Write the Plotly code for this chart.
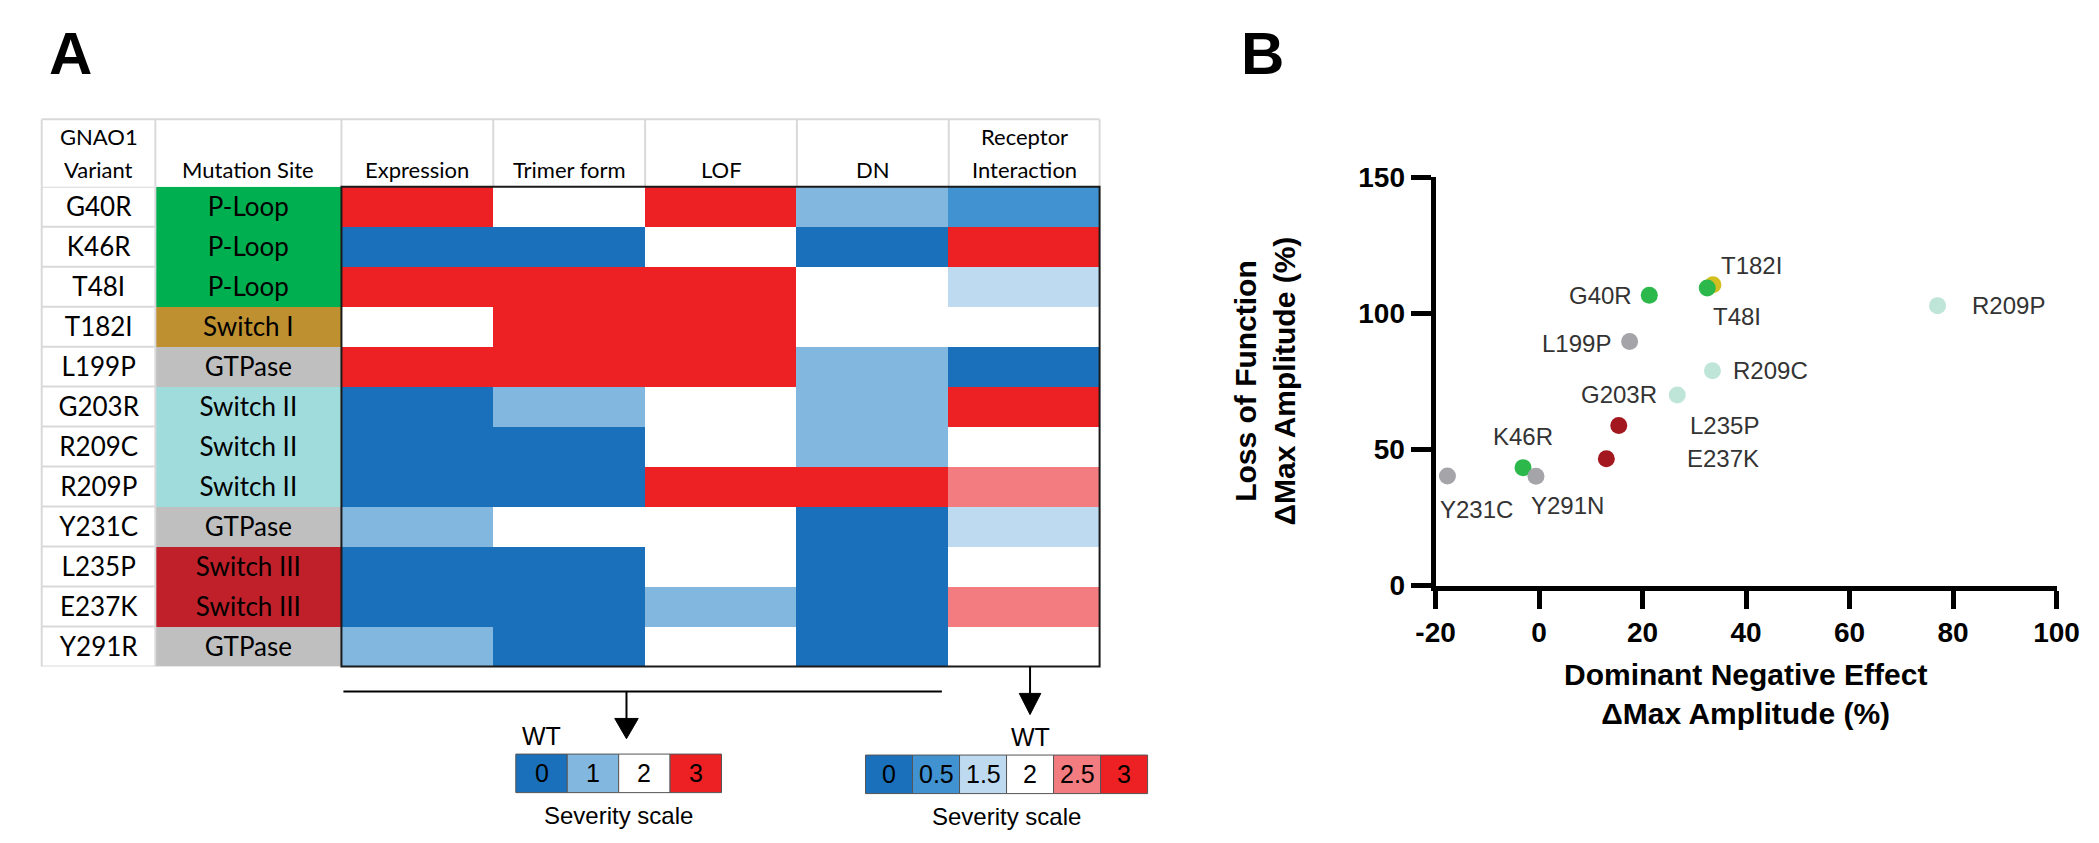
import plotly.graph_objects as go

W, H = 2099, 843
def px(x): return x / W
def py(y): return 1 - y / H

# ---------------- data: panel A ----------------
variants = ["G40R", "K46R", "T48I", "T182I", "L199P", "G203R", "R209C", "R209P",
            "Y231C", "L235P", "E237K", "Y291R"]
mutation_sites = ["P-Loop", "P-Loop", "P-Loop", "Switch I", "GTPase", "Switch II",
                  "Switch II", "Switch II", "GTPase", "Switch III", "Switch III", "GTPase"]
site_names = ["P-Loop", "Switch I", "GTPase", "Switch II", "Switch III"]
columns = ["Expression", "Trimer form", "LOF", "DN", "Receptor Interaction"]
expression = [3, 0, 3, 2, 3, 0, 0, 0, 1, 0, 0, 1]
trimer_form = [2, 0, 3, 3, 3, 1, 0, 0, 2, 0, 0, 0]
lof = [3, 2, 3, 3, 3, 2, 2, 3, 2, 2, 1, 2]
dn = [1, 0, 2, 2, 1, 1, 1, 3, 0, 0, 0, 0]
receptor = [0.5, 3, 1.5, 2, 0, 3, 2, 2.5, 1.5, 2, 2.5, 2]
legend1_values = [0, 1, 2, 3]
legend2_values = [0, 0.5, 1.5, 2, 2.5, 3]

# ---------------- data: panel B ----------------
scatter_labels = ["T182I", "T48I", "G40R", "R209P", "L199P", "R209C", "G203R",
                  "L235P", "E237K", "K46R", "Y291N", "Y231C"]
dn_effect = [33.6, 32.5, 21.3, 77.0, 17.5, 33.5, 26.7, 15.4, 13.0, -3.1, -0.6, -17.7]
lof_effect = [110.5, 109.3, 106.6, 102.8, 89.6, 78.9, 70.0, 58.8, 46.6, 43.3, 40.1, 40.2]
scatter_groups = ["Switch I", "P-Loop", "P-Loop", "Switch II", "GTPase", "Switch II",
                  "Switch II", "Switch III", "Switch III", "P-Loop", "GTPase", "GTPase"]
x_ticks = [-20, 0, 20, 40, 60, 80, 100]
x_tick_text = ["-20", "0", "20", "40", "60", "80", "100"]
y_ticks = [0, 50, 100, 150]

# ---------------- styles ----------------
sev_colors = {0: "#1A70BB", 0.5: "#4092D0", 1: "#82B8E0", 1.5: "#BDDAF0",
              2: "#FFFFFF", 2.5: "#F37C80", 3: "#ED2024"}
site_colors = {"P-Loop": "#00B050", "Switch I": "#BF9030", "GTPase": "#BFBFBF",
               "Switch II": "#A0DCDC", "Switch III": "#C0202A"}
dot_colors = {"P-Loop": "#2DB84B", "Switch I": "#D2BE1E", "GTPase": "#A5A5A9",
              "Switch II": "#BEE5D8", "Switch III": "#A3181E"}
label_offsets = {"G40R": (-49, 0), "T48I": (30, 29), "T182I": (39, -19), "R209P": (71, 0),
                 "L199P": (-53, 2), "R209C": (58, 0), "G203R": (-58, 0), "L235P": (106, 0),
                 "E237K": (117, 0), "K46R": (0, -31), "Y231C": (29, 33), "Y291N": (32, 29)}

TFONT = "Lato"
AFONT = "Liberation Sans"

# geometry (px)
col_edges = [14, 130, 320, 475, 630, 785, 940, 1094]
tbl_top, hdr_bot, tbl_bot = 100, 170, 668

fig = go.Figure()

# severity heatmap
sev_keys = [0, 0.5, 1, 1.5, 2, 2.5, 3]
cs = []
n = len(sev_keys)
for i, k in enumerate(sev_keys):
    cs.append([i / n, sev_colors[k]])
    cs.append([(i + 1) / n, sev_colors[k]])
z = [[expression[r], trimer_form[r], lof[r], dn[r], receptor[r]] for r in range(len(variants))]
fig.add_trace(go.Heatmap(z=z, x=columns, y=variants, colorscale=cs, zmin=-0.25, zmax=3.25,
                         showscale=False, hoverinfo="skip", xaxis="x2", yaxis="y2"))

# mutation site column
site_idx = [[site_names.index(s)] for s in mutation_sites]
cs2 = []
for i, s in enumerate(site_names):
    cs2.append([i / len(site_names), site_colors[s]])
    cs2.append([(i + 1) / len(site_names), site_colors[s]])
fig.add_trace(go.Heatmap(z=site_idx, x=["Mutation Site"], y=variants, colorscale=cs2,
                         zmin=-0.5, zmax=len(site_names) - 0.5, showscale=False,
                         text=[[s] for s in mutation_sites], texttemplate="%{text}",
                         textfont=dict(family=TFONT, size=26, color="black"),
                         hoverinfo="skip", xaxis="x3", yaxis="y3"))

# variant column
fig.add_trace(go.Heatmap(z=[[0] for _ in variants], x=["GNAO1 Variant"], y=variants,
                         colorscale=[[0, "white"], [1, "white"]], showscale=False,
                         text=[[v] for v in variants], texttemplate="%{text}",
                         textfont=dict(family=TFONT, size=26, color="black"),
                         hoverinfo="skip", xaxis="x4", yaxis="y4"))

# scatter
fig.add_trace(go.Scatter(x=dn_effect, y=lof_effect, mode="markers",
                         marker=dict(size=17, color=[dot_colors[g] for g in scatter_groups]),
                         cliponaxis=False, hoverinfo="skip", xaxis="x", yaxis="y"))

ydom = [py(tbl_bot), py(hdr_bot)]
hidden = dict(visible=False, fixedrange=True)
tickf = dict(family=AFONT, size=28, color="black", weight="bold")
fig.update_layout(
    width=W, height=H, margin=dict(l=0, r=0, t=0, b=0), autosize=False,
    paper_bgcolor="white", plot_bgcolor="white", showlegend=False,
    xaxis=dict(domain=[px(1437), px(2071)], range=[-20, 100], tickvals=x_ticks, ticktext=x_tick_text,
               showline=True, linewidth=5, linecolor="black", ticks="outside",
               ticklen=18, tickwidth=5, tickcolor="black", showgrid=False, zeroline=False,
               tickfont=tickf, anchor="y"),
    yaxis=dict(domain=[py(584), py(160)], range=[0, 150], tickvals=y_ticks,
               showline=True, linewidth=5, linecolor="black", ticks="outside",
               ticklen=20, tickwidth=5, tickcolor="black", showgrid=False, zeroline=False,
               tickfont=tickf, anchor="x"),
    xaxis2=dict(domain=[px(col_edges[2]), px(col_edges[7])], range=[-0.5, 4.5], anchor="y2", **hidden),
    yaxis2=dict(domain=ydom, range=[11.5, -0.5], anchor="x2", **hidden),
    xaxis3=dict(domain=[px(col_edges[1]), px(col_edges[2])], range=[-0.5, 0.5], anchor="y3", **hidden),
    yaxis3=dict(domain=ydom, range=[11.5, -0.5], anchor="x3", **hidden),
    xaxis4=dict(domain=[px(col_edges[0]), px(col_edges[1])], range=[-0.5, 0.5], anchor="y4", **hidden),
    yaxis4=dict(domain=ydom, range=[11.5, -0.5], anchor="x4", **hidden),
)

shapes = []
ann = []
GRID = "#D9D9D9"
# header grid
shapes.append(dict(type="line", xref="paper", yref="paper", x0=px(col_edges[0]), x1=px(col_edges[-1]),
                   y0=py(tbl_top), y1=py(tbl_top), line=dict(color=GRID, width=2)))
for xe in col_edges:
    shapes.append(dict(type="line", xref="paper", yref="paper", x0=px(xe), x1=px(xe),
                       y0=py(tbl_top), y1=py(hdr_bot), line=dict(color=GRID, width=2)))
# variant column grid
for xe in col_edges[:2]:
    shapes.append(dict(type="line", xref="paper", yref="paper", x0=px(xe), x1=px(xe),
                       y0=py(hdr_bot), y1=py(tbl_bot), line=dict(color=GRID, width=2)))
for i in range(len(variants) + 1):
    shapes.append(dict(type="line", xref="paper", yref="y4", x0=px(col_edges[0]), x1=px(col_edges[1]),
                       y0=i - 0.5, y1=i - 0.5, line=dict(color=GRID, width=2)))
# black frame around severity heatmap
shapes.append(dict(type="rect", xref="paper", yref="paper", x0=px(col_edges[2]), x1=px(col_edges[-1]),
                   y0=py(tbl_bot), y1=py(hdr_bot), line=dict(color="#1a1a1a", width=2)))

# header texts
hdr_font = dict(family=TFONT, size=22, color="black")
headers = [["GNAO1", "Variant"], ["Mutation Site"]] + [[c] for c in columns[:4]] + [["Receptor", "Interaction"]]
for j, h in enumerate(headers):
    xc = (col_edges[j] + col_edges[j + 1]) / 2
    if len(h) == 1:
        ann.append(dict(x=px(xc), y=py(152), xref="paper", yref="paper", text=h[0], showarrow=False,
                        font=hdr_font, xanchor="center", yanchor="middle"))
    else:
        for k, t in enumerate(h):
            ann.append(dict(x=px(xc), y=py(118 + 34 * k), xref="paper", yref="paper", text=t, showarrow=False,
                            font=hdr_font, xanchor="center", yanchor="middle"))

# connector line + arrows
shapes.append(dict(type="line", xref="paper", yref="paper", x0=px(322), x1=px(933), y0=py(694), y1=py(694),
                   line=dict(color="black", width=2)))
def arrow(xc, y0, y1, hw, hh):
    shapes.append(dict(type="line", xref="paper", yref="paper", x0=px(xc), x1=px(xc), y0=py(y0), y1=py(y1 - hh + 2),
                       line=dict(color="black", width=2)))
    path = f"M {px(xc-hw)} {py(y1-hh)} L {px(xc+hw)} {py(y1-hh)} L {px(xc)} {py(y1)} Z"
    shapes.append(dict(type="path", xref="paper", yref="paper", path=path, fillcolor="black",
                       line=dict(color="black", width=1)))
arrow(611, 694, 743, 12, 21)
arrow(1023, 668, 718, 11, 22)

# severity legends
leg_font = dict(family=AFONT, size=25, color="black")
def legend(vals, x0, bw, y0, y1, wt_x):
    for i, v in enumerate(vals):
        xa = x0 + i * bw
        shapes.append(dict(type="rect", xref="paper", yref="paper", x0=px(xa), x1=px(xa + bw),
                           y0=py(y1), y1=py(y0), fillcolor=sev_colors[v], line=dict(color="#555555", width=1)))
        ann.append(dict(x=px(xa + bw / 2), y=py((y0 + y1) / 2), xref="paper", yref="paper", text=f"{v:g}",
                        showarrow=False, font=leg_font, xanchor="center", yanchor="middle"))
    ann.append(dict(x=px(wt_x), y=py(y0 - 19), xref="paper", yref="paper", text="WT", showarrow=False,
                    font=leg_font, xanchor="center", yanchor="middle"))
    ann.append(dict(x=px(x0 + len(vals) * bw / 2), y=py(y1 + 24), xref="paper", yref="paper",
                    text="Severity scale", showarrow=False, font=dict(family=AFONT, size=24, color="black"),
                    xanchor="center", yanchor="middle"))
legend(legend1_values, 498, 52.5, 759, 799, 524)
legend(legend2_values, 855, 48, 760, 800, 1023)

# scatter labels
for lab, xv, yv in zip(scatter_labels, dn_effect, lof_effect):
    dx, dy = label_offsets[lab]
    ann.append(dict(x=xv, y=yv, xref="x", yref="y", text=lab, showarrow=False, xshift=dx, yshift=-dy,
                    font=dict(family=AFONT, size=24, color="#333333"), xanchor="center", yanchor="middle"))

# axis titles
tfont = dict(family=AFONT, size=30, color="black", weight="bold")
ann.append(dict(x=px(1753), y=py(697), xref="paper", yref="paper",
                text="Dominant Negative Effect<br>ΔMax Amplitude (%)", showarrow=False, font=tfont,
                xanchor="center", yanchor="middle"))
ann.append(dict(x=px(1263), y=py(372), xref="paper", yref="paper",
                text="Loss of Function<br>ΔMax Amplitude (%)", showarrow=False, font=tfont, textangle=-90,
                xanchor="center", yanchor="middle"))

# panel letters
pfont = dict(family=AFONT, size=60, color="black", weight="bold")
ann.append(dict(x=px(43), y=py(32), xref="paper", yref="paper", text="A", showarrow=False, font=pfont,
                xanchor="center", yanchor="middle"))
ann.append(dict(x=px(1260), y=py(32), xref="paper", yref="paper", text="B", showarrow=False, font=pfont,
                xanchor="center", yanchor="middle"))

fig.update_layout(shapes=shapes, annotations=ann)
fig.write_html("out.html")
